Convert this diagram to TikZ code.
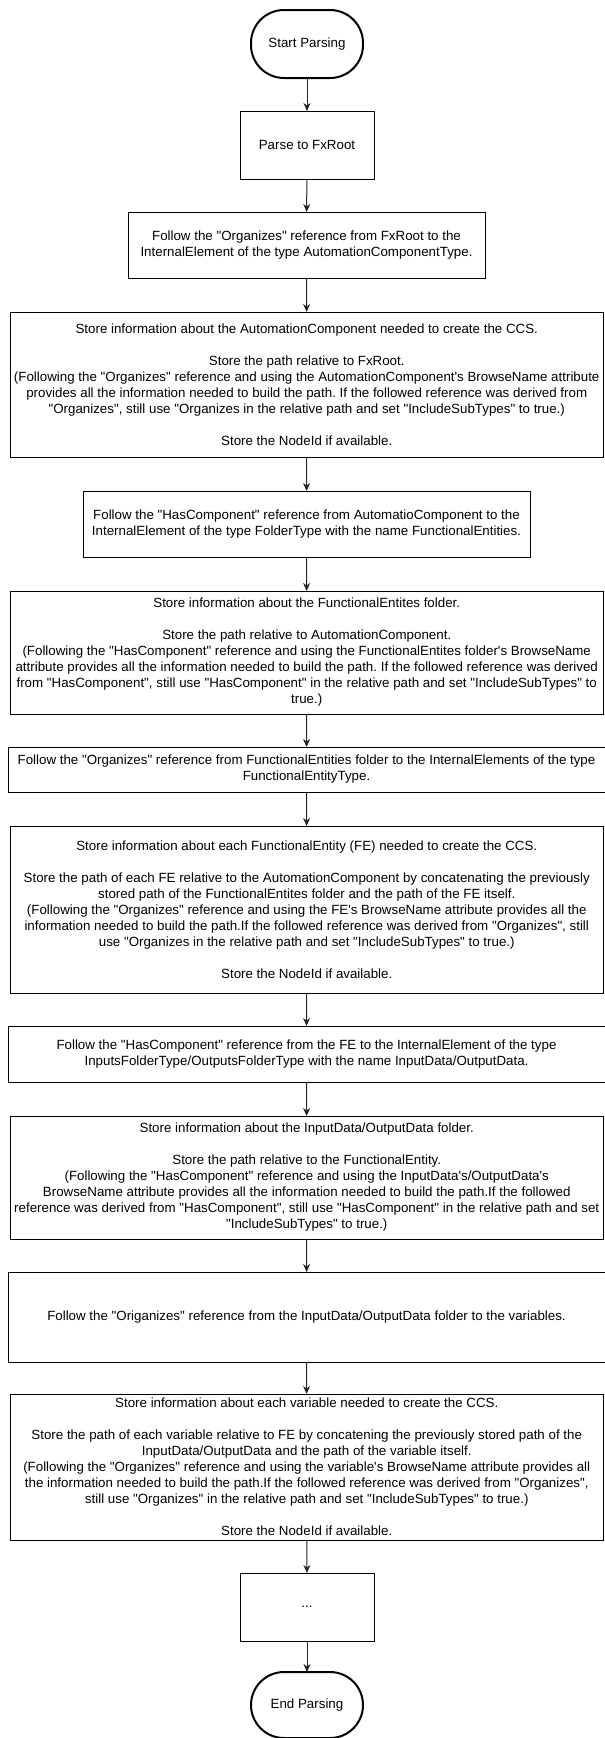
\documentclass[tikz,border=0pt]{standalone}
\usepackage{fontspec}
\newfontfamily\drawfont{Liberation Sans}
\usetikzlibrary{arrows.meta}
\newcommand\boxtxt{\drawfont\fontsize{13.33}{16}\selectfont\frenchspacing}
\tikzset{
  box/.style={draw=black, line width=1pt, align=center, inner sep=0pt, outer sep=0pt, font=\boxtxt, text=black, rectangle},
  term/.style={box, line width=2pt, rounded corners=33pt},
  arr/.style={-{Stealth[length=8pt,width=7pt,inset=2.5pt]}, line width=1pt, draw=black!85},
}
\begin{document}
\frenchspacing
\begin{tikzpicture}[x=1pt,y=-1pt]
\useasboundingbox (0,0) rectangle (605,1738);

\node[term, minimum width=112pt, minimum height=68pt] (start) at (307,44) {Start Parsing};
\node[box, minimum width=134pt, minimum height=68pt] (parse) at (307,145) {Parse to FxRoot};
\node[box, minimum width=357pt, minimum height=66pt] (f1) at (306.5,245)
  {Follow the "Organizes" reference from FxRoot to the\\InternalElement of the type AutomationComponentType.};
\node[box, minimum width=592.5pt, minimum height=145pt] (s1) at (306.75,384.5)
  {Store information about the AutomationComponent needed to create the CCS.\\[16pt]
   Store the path relative to FxRoot.\\
   (Following the "Organizes" reference and using the AutomationComponent's BrowseName attribute\\
   provides all the information needed to build the path. If the followed reference was derived from\\
   "Organizes", still use "Organizes in the relative path and set "IncludeSubTypes" to true.)\\[16pt]
   Store the NodeId if available.};
\node[box, minimum width=447pt, minimum height=66pt] (f2) at (306.5,524)
  {Follow the "HasComponent" reference from AutomatioComponent to the\\InternalElement of the type FolderType with the name FunctionalEntities.};
\node[box, minimum width=592.5pt, minimum height=123pt] (s2) at (306.75,652.5)
  {Store information about the FunctionalEntites folder.\\[16pt]
   Store the path relative to AutomationComponent.\\
   (Following the "HasComponent" reference and using the FunctionalEntites folder's BrowseName\\
   attribute provides all the information needed to build the path. If the followed reference was derived\\
   from "HasComponent", still use "HasComponent" in the relative path and set "IncludeSubTypes" to\\
   true.)};
\node[box, minimum width=597pt, minimum height=45pt] (f3) at (306.5,769.5)
  {Follow the "Organizes" reference from FunctionalEntities folder to the InternalElements of the type\\FunctionalEntityType.};
\node[box, minimum width=592.5pt, minimum height=167pt] (s3) at (306.75,909.5)
  {Store information about each FunctionalEntity (FE) needed to create the CCS.\\[16pt]
   Store the path of each FE relative to the AutomationComponent by concatenating the previously\\
   stored path of the FunctionalEntites folder and the path of the FE itself.\\
   (Following the "Organizes" reference and using the FE's BrowseName attribute provides all the\\
   information needed to build the path.If the followed reference was derived from "Organizes", still\\
   use "Organizes in the relative path and set "IncludeSubTypes" to true.)\\[16pt]
   Store the NodeId if available.};
\node[box, minimum width=597pt, minimum height=56pt] (f4) at (306.5,1054)
  {Follow the "HasComponent" reference from the FE to the InternalElement of the type\\InputsFolderType/OutputsFolderType with the name InputData/OutputData.};
\node[box, minimum width=592.5pt, minimum height=123pt] (s4) at (306.75,1177.5)
  {Store information about the InputData/OutputData folder.\\[16pt]
   Store the path relative to the FunctionalEntity.\\
   (Following the "HasComponent" reference and using the InputData's/OutputData's\\
   BrowseName attribute provides all the information needed to build the path.If the followed\\
   reference was derived from "HasComponent", still use "HasComponent" in the relative path and set\\
   "IncludeSubTypes" to true.)};
\node[box, minimum width=597pt, minimum height=90pt] (f5) at (306.5,1317)
  {Follow the "Origanizes" reference from the InputData/OutputData folder to the variables.};
\node[box, minimum width=592.5pt, minimum height=146pt] (s5) at (306.75,1467)
  {Store information about each variable needed to create the CCS.\\[16pt]
   Store the path of each variable relative to FE by concatening the previously stored path of the\\
   InputData/OutputData and the path of the variable itself.\\
   (Following the "Organizes" reference and using the variable's BrowseName attribute provides all\\
   the information needed to build the path.If the followed reference was derived from "Organizes",\\
   still use "Organizes" in the relative path and set "IncludeSubTypes" to true.)\\[16pt]
   Store the NodeId if available.};
\node[box, minimum width=134pt, minimum height=68pt] (dots) at (307,1607) {...};
\node[term, minimum width=112pt, minimum height=66pt] (end) at (307,1705) {End Parsing};

\draw[arr] (start) -- (parse);
\draw[arr] (parse) -- (f1);
\draw[arr] (f1) -- (s1);
\draw[arr] (s1) -- (f2);
\draw[arr] (f2) -- (s2);
\draw[arr] (s2) -- (f3);
\draw[arr] (f3) -- (s3);
\draw[arr] (s3) -- (f4);
\draw[arr] (f4) -- (s4);
\draw[arr] (s4) -- (f5);
\draw[arr] (f5) -- (s5);
\draw[arr] (s5) -- (dots);
\draw[arr] (dots) -- (end);
\end{tikzpicture}
\end{document}
